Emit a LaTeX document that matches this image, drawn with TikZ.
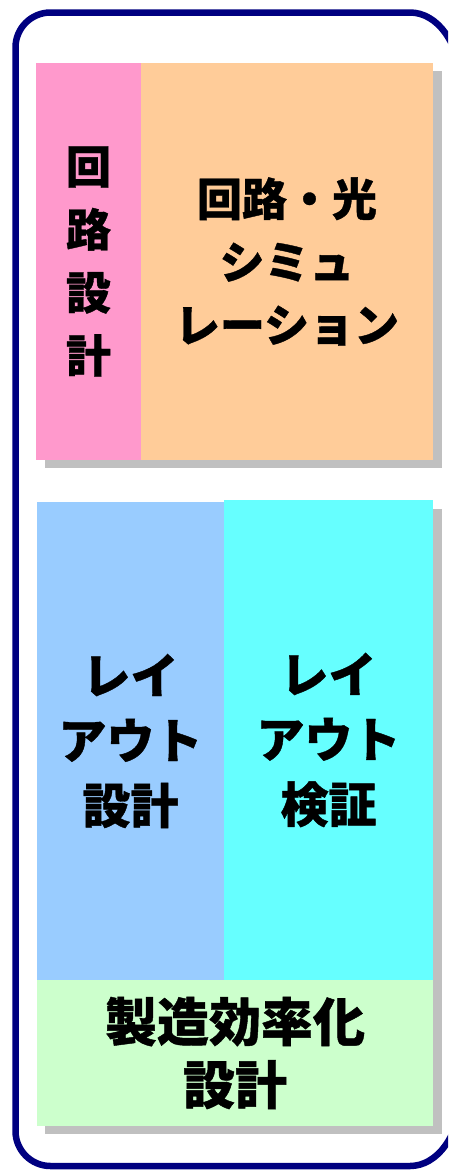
\documentclass[tikz,border=0pt]{standalone}
\usepackage{fontspec}
\newfontfamily\jp{Noto Sans CJK JP}[BoldFeatures={FakeBold=0.8}]
\definecolor{frame}{HTML}{000080}
\definecolor{pinkc}{HTML}{FF99CC}
\definecolor{orangec}{HTML}{FFCC99}
\definecolor{bluec}{HTML}{99CCFF}
\definecolor{cyanc}{HTML}{66FFFF}
\definecolor{greenc}{HTML}{CCFFCC}
\definecolor{shadowc}{HTML}{C0C0C0}
\begin{document}
\begin{tikzpicture}[x=1pt,y=-1pt,
  blk/.style={draw=none,inner sep=0pt,outer sep=0pt,anchor=north west,align=center,
    font=\jp\bfseries\fontsize{45}{63}\selectfont},
  bigtxt/.style={font=\jp\bfseries\fontsize{48}{65}\selectfont},
  hugetxt/.style={font=\jp\bfseries\fontsize{52}{63}\selectfont},
  shadowbox/.style={fill=shadowc,draw=none}]
\useasboundingbox (0,0) rectangle (448,1176);
\fill[white] (0,0) rectangle (448,1176);
\begin{scope}
\clip (0,0) rectangle (448,1176);
\draw[frame,line width=6.5pt]
  (50.5,12.5) -- (410,12.5)
  arc[start angle=-90, end angle=0, x radius=50, y radius=70]
  -- (460,1096)
  arc[start angle=0, end angle=90, x radius=50, y radius=70]
  -- (50.5,1166)
  arc[start angle=90, end angle=180, radius=35]
  -- (15.5,47.5)
  arc[start angle=180, end angle=270, radius=35]
  -- cycle;
\end{scope}
% shadows
\fill[shadowbox] (45,71) rectangle (442,468);
\fill[shadowbox] (45,509) rectangle (442,1134);
% top blocks
\node[blk,fill=pinkc,minimum width=105pt,minimum height=397pt] (kairo) at (36,63) {回\\路\\設\\計};
\node[blk,fill=orangec,minimum width=292pt,minimum height=397pt] (sim) at (141,63) {回路・光\\シミュ\\レーション};
% bottom blocks
\node[blk,bigtxt,fill=bluec,minimum width=187pt,minimum height=478pt] (layd) at (37,502) {レイ\\アウト\\設計};
\node[blk,bigtxt,fill=cyanc,minimum width=209pt,minimum height=480pt] (layv) at (224,500) {レイ\\アウト\\検証};
\node[blk,hugetxt,fill=greenc,minimum width=396pt,minimum height=146pt] (dfm) at (37,980) {製造効率化\\設計};
\end{tikzpicture}
\end{document}
